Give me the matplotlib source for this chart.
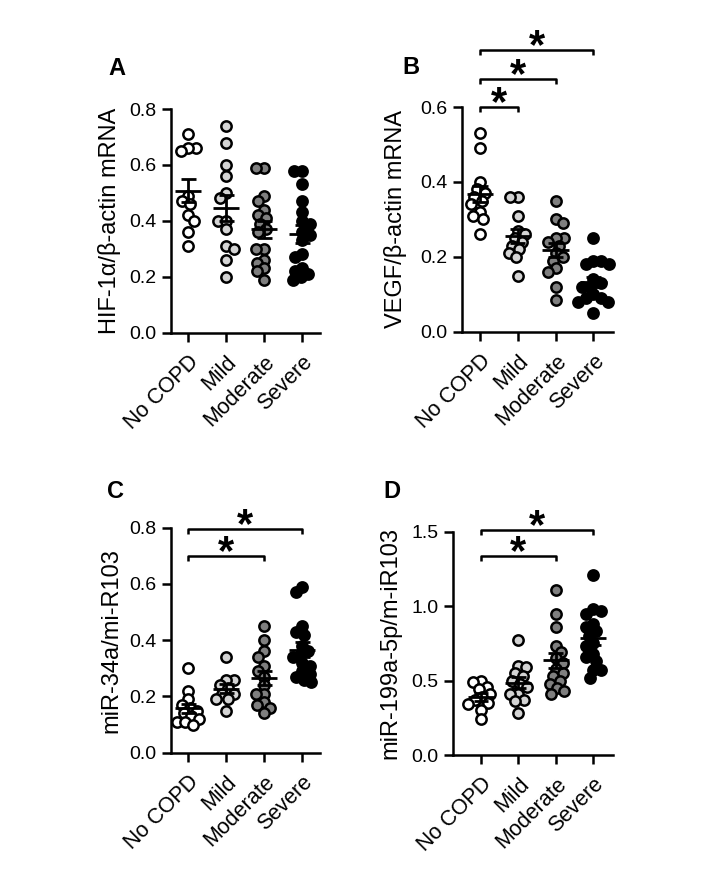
import numpy as np
import matplotlib
matplotlib.use('Agg')
import matplotlib.pyplot as plt
from matplotlib.transforms import offset_copy

plt.rcParams['font.family'] = ['Liberation Sans', 'DejaVu Sans']

W, H = 712, 871

groups = ['No COPD', 'Mild', 'Moderate', 'Severe']
group_colors = ['white', '#d4d4d4', '#7f7f7f', 'black']

# A: HIF-1a
hif_no = [0.71, 0.66, 0.66, 0.65, 0.49, 0.47, 0.46, 0.42, 0.40, 0.36, 0.31]
hif_mild = [0.74, 0.68, 0.60, 0.56, 0.50, 0.48, 0.40, 0.40, 0.37, 0.31, 0.30, 0.26, 0.20]
hif_mod = [0.59, 0.59, 0.49, 0.47, 0.44, 0.42, 0.41, 0.39, 0.37, 0.36, 0.30, 0.30,
           0.26, 0.25, 0.23, 0.22, 0.19]
hif_sev = [0.58, 0.58, 0.53, 0.47, 0.43, 0.40, 0.39, 0.36, 0.35, 0.33, 0.28, 0.27,
           0.23, 0.22, 0.21, 0.20, 0.19]

# B: VEGF
vegf_no = [0.53, 0.49, 0.40, 0.38, 0.37, 0.36, 0.35, 0.34, 0.32, 0.31, 0.30, 0.26]
vegf_mild = [0.36, 0.36, 0.31, 0.27, 0.26, 0.25, 0.24, 0.23, 0.22, 0.21, 0.20, 0.15]
vegf_mod = [0.35, 0.30, 0.29, 0.25, 0.25, 0.24, 0.23, 0.21, 0.20, 0.19, 0.17, 0.16,
            0.12, 0.085]
vegf_sev = [0.25, 0.19, 0.19, 0.18, 0.18, 0.14, 0.13, 0.12, 0.12, 0.10, 0.09, 0.09,
            0.08, 0.08, 0.05]

# C: miR-34a
mir34_no = [0.30, 0.22, 0.19, 0.17, 0.16, 0.15, 0.14, 0.13, 0.12, 0.11, 0.11, 0.10]
mir34_mild = [0.34, 0.26, 0.26, 0.24, 0.23, 0.21, 0.21, 0.19, 0.19, 0.15]
mir34_mod = [0.45, 0.40, 0.36, 0.34, 0.31, 0.29, 0.27, 0.24, 0.21, 0.21, 0.18, 0.17,
             0.16, 0.14]
mir34_sev = [0.59, 0.57, 0.45, 0.43, 0.42, 0.38, 0.36, 0.35, 0.34, 0.32, 0.31, 0.29,
             0.28, 0.27, 0.26, 0.25]

# D: miR-199a-5p
mir199_no = [0.50, 0.49, 0.46, 0.44, 0.41, 0.39, 0.37, 0.35, 0.34, 0.30, 0.24]
mir199_mild = [0.77, 0.60, 0.59, 0.55, 0.53, 0.50, 0.48, 0.46, 0.41, 0.41, 0.37, 0.36, 0.28]
mir199_mod = [1.11, 0.95, 0.86, 0.73, 0.69, 0.65, 0.62, 0.58, 0.55, 0.53, 0.50, 0.48,
              0.45, 0.43, 0.41]
mir199_sev = [1.21, 0.98, 0.97, 0.95, 0.88, 0.86, 0.83, 0.80, 0.75, 0.73, 0.68, 0.66,
              0.63, 0.57, 0.57, 0.52]

ylabels = ['HIF-1α/β-actin mRNA', 'VEGF/β-actin mRNA',
           'miR-34a/mi-R103', 'miR-199a-5p/m-iR103']
letters = ['A', 'B', 'C', 'D']
ymaxes = [0.8, 0.6, 0.8, 1.5]
ysteps = [0.2, 0.2, 0.2, 0.5]
# significance brackets: (group i, group j, height)
brackets = [[], [(0, 1, 0.6), (0, 2, 0.674), (0, 3, 0.752)],
            [(0, 2, 0.699), (0, 3, 0.794)], [(0, 2, 1.336), (0, 3, 1.511)]]

data = [[hif_no, hif_mild, hif_mod, hif_sev],
        [vegf_no, vegf_mild, vegf_mod, vegf_sev],
        [mir34_no, mir34_mild, mir34_mod, mir34_sev],
        [mir199_no, mir199_mild, mir199_mod, mir199_sev]]

# axes boxes in pixels: left, top, right, bottom ; xlim
boxes = [(170.7, 109, 320, 332.7), (461.7, 107, 613, 331.7),
         (170.7, 527.7, 320, 752.7), (452.7, 531.7, 613, 755)]
xlims = [(-0.46, 3.47), (-0.485, 3.52), (-0.46, 3.47), (-0.757, 3.53)]
letter_pos = [(117, 75), (411, 74), (116, 498), (392, 498)]
label_x = [-0.335, -0.36, -0.32, -0.32]


def swarm(ax, xc, vals, diam=8.0, step=0.5):
    tr = ax.transData
    ppu = tr.transform((1, 0))[0] - tr.transform((0, 0))[0]
    ys = [tr.transform((xc, v))[1] for v in vals]
    placed = []
    offs = np.zeros(len(vals))
    for n, idx in enumerate(np.argsort(vals)[::-1]):
        y = ys[idx]
        sign = 1 if n % 2 == 0 else -1
        k = 0
        found = None
        while found is None:
            cands = [0.0] if k == 0 else [sign * k * step, -sign * k * step]
            for off in cands:
                if all((off - px) ** 2 + (y - py) ** 2 >= diam ** 2 for px, py in placed):
                    found = off
                    break
            k += 1
        placed.append((found, y))
        offs[idx] = found
    return xc + offs / ppu


fig = plt.figure(figsize=(W / 100, H / 100), dpi=100)

for p in range(4):
    l, t, r, b = boxes[p]
    ax = fig.add_axes([l / W, 1 - b / H, (r - l) / W, (b - t) / H])
    ax.set_xlim(*xlims[p])
    ax.set_ylim(0, ymaxes[p])
    for s in ['top', 'right']:
        ax.spines[s].set_visible(False)
    for s in ['left', 'bottom']:
        ax.spines[s].set_linewidth(1.8)
    ax.tick_params(width=1.8, length=6.5, labelsize=14, direction='out')
    yt = np.arange(0, ymaxes[p] + 1e-9, ysteps[p])
    ax.set_yticks(yt)
    ax.set_yticklabels(['%.1f' % v for v in yt])
    ax.set_xticks(range(4))
    ax.set_xticklabels(groups, rotation=45, ha='right', va='top',
                       rotation_mode='anchor', fontsize=15.5)
    ax.tick_params(axis='x', pad=7)
    ax.set_ylabel(ylabels[p], fontsize=17)
    ax.yaxis.set_label_coords(label_x[p], 0.5)

    for g in range(4):
        vals = np.array(data[p][g])
        xs = swarm(ax, g, vals)
        ax.scatter(xs, vals, s=55, facecolor=group_colors[g], edgecolor='black',
                   linewidth=1.8, zorder=3, clip_on=False)
        m = vals.mean()
        se = vals.std(ddof=1) / np.sqrt(len(vals))
        ax.hlines(m, g - 0.35, g + 0.35, color='black', lw=2, zorder=4)
        ax.hlines([m - se, m + se], g - 0.2, g + 0.2, color='black', lw=2, zorder=4)
        ax.vlines(g, m - se, m + se, color='black', lw=2, zorder=4)

    ppu_y = ax.transData.transform((0, 1))[1] - ax.transData.transform((0, 0))[1]
    drop = 5 / ppu_y
    star_tr = offset_copy(ax.transData, fig=fig, x=0, y=-5.5, units='points')
    for i, j, h in brackets[p]:
        ax.plot([i, i, j, j], [h - drop, h, h, h - drop], color='black', lw=1.8,
                clip_on=False, solid_capstyle='butt')
        ax.text((i + j) / 2, h, '*', transform=star_tr, ha='center', va='baseline',
                fontsize=30, fontweight='bold', clip_on=False)

    fig.text(letter_pos[p][0] / W, 1 - letter_pos[p][1] / H, letters[p],
             fontsize=17, fontweight='bold', ha='center', va='baseline')

fig.savefig('out.png', dpi=100)
